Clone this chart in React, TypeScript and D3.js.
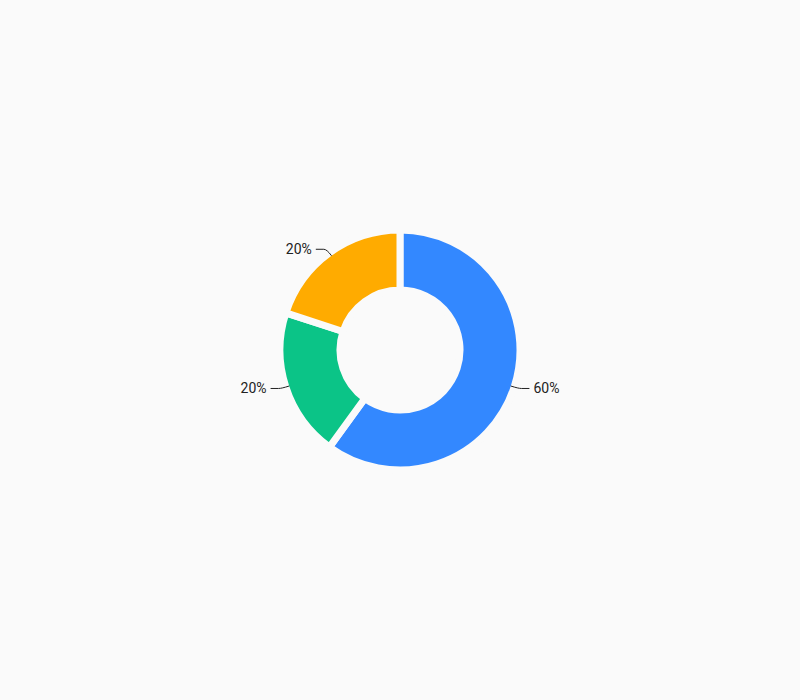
import React from 'react';
import * as d3 from 'd3';

// Данные диаграммы
const categories = ['A', 'B', 'C'];
const values = [60, 20, 20];
const colors = ['#3388FF', '#0BC487', '#FFAB00'];

export default function App() {
  const width = 800;
  const height = 700;
  const cx = 400;
  const cy = 350;
  const gap = 7;
  const outerR = 116.5 + gap / 2;
  const innerR = 63.5 - gap / 2;

  const pie = d3.pie<number>().sort(null).value(d => d);
  const arcs = pie(values);
  const arc = d3.arc<d3.PieArcDatum<number>>().innerRadius(innerR).outerRadius(outerR);
  const total = d3.sum(values);
  const labelR = 116.5;

  return (
    <svg width={width} height={height} style={{ position: 'absolute', left: 0, top: 0, background: '#fafafa' }}>
      <rect width={width} height={height} fill="#fafafa" />
      <g transform={`translate(${cx},${cy})`}>
        {arcs.map((a, i) => (
          <path key={categories[i]} d={arc(a) || ''} fill={colors[i]} stroke="#fafafa" strokeWidth={gap} strokeLinejoin="miter" />
        ))}
        {arcs.map((a, i) => {
          const mid = (a.startAngle + a.endAngle) / 2;
          const sx = Math.sin(mid);
          const sy = -Math.cos(mid);
          const p0 = [labelR * sx, labelR * sy];
          const p1 = [(labelR + 8) * sx, (labelR + 8) * sy];
          const right = sx >= 0;
          const p2 = [p1[0] + (right ? 11 : -11), p1[1]];
          const pct = Math.round((values[i] / total) * 100);
          return (
            <g key={'l' + categories[i]}>
              <path
                d={`M${p0[0]},${p0[1]} Q${p1[0]},${p1[1]} ${p1[0] + (right ? 3 : -3)},${p1[1]} L${p2[0]},${p2[1]}`}
                fill="none"
                stroke="#222"
                strokeWidth={1}
              />
              <text
                x={p2[0] + (right ? 4 : -4)}
                y={p2[1]}
                dy="0.35em"
                textAnchor={right ? 'start' : 'end'}
                fontFamily="Roboto"
                fontSize={14}
                fill="#222"
              >
                {pct}%
              </text>
            </g>
          );
        })}
      </g>
    </svg>
  );
}
